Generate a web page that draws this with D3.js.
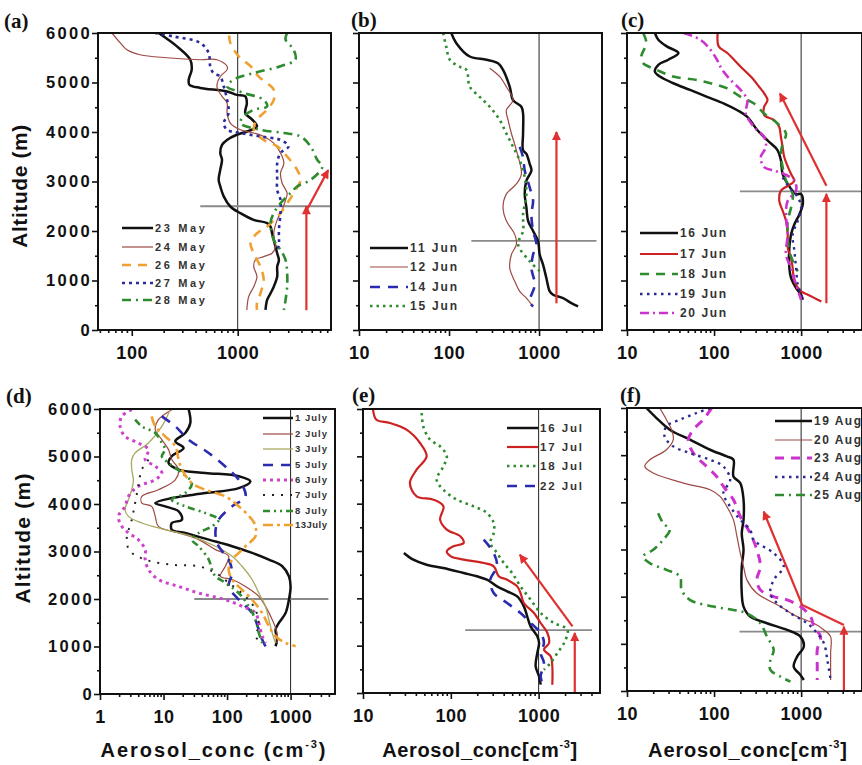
<!DOCTYPE html>
<html><head><meta charset="utf-8">
<script src="https://cdn.jsdelivr.net/npm/d3@7"></script>
<style>body{margin:0;background:#fff} svg{display:block}</style>
</head><body><svg id="chart" width="862" height="765"></svg>
<script>
// ---------------- DATA: [concentration (cm^-3), altitude (m)] ----------------
// Panel (a) May
const may23 = [[179,6000],[267,5730],[357,5460],[368,5260],[345,5060],[350,4955],[443,4890],[792,4820],[980,4750],[1180,4720],[1220,4585],[1180,4380],[1370,4250],[1520,4110],[1220,4010],[980,3945],[792,3840],[711,3740],[685,3575],[711,3440],[685,3240],[661,3035],[685,2900],[738,2700],[852,2495],[1060,2360],[1416,2225],[1897,2160],[2040,2090],[2110,1955],[2190,1820],[2360,1550],[2450,1415],[2360,1280],[2360,1080],[2190,875],[2040,740],[1897,607],[1830,405]];
const may24 = [[65,6000],[78,5800],[90,5660],[120,5560],[214,5500],[443,5460],[637,5460],[794,5330],[794,5260],[685,5120],[637,4920],[711,4720],[794,4585],[794,4380],[852,4180],[1060,4045],[1416,3980],[1760,3910],[2190,3775],[2535,3575],[2730,3370],[2535,3170],[2630,2965],[2930,2765],[2830,2630],[2630,2427],[2360,2225],[2190,1955],[2270,1685],[2110,1550],[1760,1483],[1470,1415],[1416,1280],[1520,1080],[1416,875],[1270,675],[1220,405]];
const may26 = [[830,5950],[852,5800],[1020,5530],[1320,5330],[1580,5120],[2190,4855],[2190,4650],[1897,4450],[1520,4250],[1416,4045],[1760,3840],[2360,3710],[2930,3505],[3640,3235],[3920,3035],[3380,2765],[2930,2560],[2535,2360],[1897,2090],[1520,1955],[1320,1755],[1416,1550],[1640,1280],[1760,1010],[1640,740],[1520,540],[1520,405]];
const may27 = [[166,6000],[248,5930],[443,5800],[532,5595],[550,5330],[590,5190],[685,5120],[738,4920],[794,4650],[820,4380],[738,4180],[794,4045],[1060,3980],[1640,3910],[2535,3840],[3030,3710],[2535,3575],[2360,3370],[2360,3100],[2360,2830],[2535,2630],[2535,2360],[2450,2020],[2450,1755],[2360,1550]];
const may28 = [[2930,6000],[2830,5870],[3380,5660],[3500,5460],[2535,5330],[1416,5190],[916,5060],[794,4920],[1140,4790],[1760,4650],[1897,4515],[1416,4450],[1140,4315],[1060,4180],[1640,4045],[2730,3980],[3920,3910],[4880,3710],[5630,3440],[6300,3300],[4900,3035],[3640,2900],[3150,2765],[2535,2560],[2190,2360],[2040,2160],[2190,1820],[2535,1620],[2830,1415],[2930,1146],[2930,875],[2830,607],[2730,405]];
// Panel (b) June 11-15
const jun11 = [[106,6000],[120,5800],[170,5525],[260,5460],[350,5390],[398,5255],[472,4915],[514,4645],[636,4510],[664,4375],[664,3970],[664,3630],[723,3560],[787,3355],[822,3220],[723,3017],[693,2745],[723,2475],[755,2205],[858,2000],[975,1797],[1016,1525],[1107,1322],[1205,1050],[1314,780],[1432,712],[1848,644],[2287,542],[2710,475]];
const jun12 = [[283,5290],[366,5120],[433,4915],[514,4645],[433,4440],[453,4240],[493,3970],[560,3630],[636,3150],[560,2950],[433,2745],[398,2475],[433,2205],[537,1932],[560,1730],[493,1525],[472,1254],[537,983],[610,780],[723,644],[858,475]];
const jun14 = [[610,3700],[664,3490],[693,3220],[787,2880],[858,2610],[822,2340],[858,2000],[935,1730],[858,1525],[822,1254],[895,915],[787,576],[858,475]];
const jun15 = [[86,6000],[93,5730],[102,5460],[131,5320],[156,5255],[170,4915],[219,4710],[283,4510],[366,4240],[433,3970],[514,3700],[610,3425],[693,3085],[723,2745],[664,2340],[664,2000],[585,1730],[787,1390],[1016,1190]];
// Panel (c) June 16-20
const jun16 = [[20.9,6000],[22.9,5865],[28.6,5730],[39,5595],[29.8,5460],[22.9,5355],[20.9,5220],[23.9,5120],[34,4985],[53,4850],[83,4710],[130,4575],[185,4440],[241,4305],[315,4035],[411,3830],[537,3630],[586,3425],[613,3150],[701,2950],[875,2745],[1000,2745],[1045,2540],[957,2340],[837,2135],[766,1932],[732,1660],[732,1254],[766,1050],[875,848],[1000,712],[1045,610]];
const jun17 = [[110,6000],[113,5730],[142,5595],[202,5320],[264,5120],[329,4915],[376,4780],[411,4645],[376,4510],[376,4340],[491,4240],[561,4100],[586,3900],[613,3695],[641,3490],[766,3150],[837,3017],[766,2950],[586,2815],[561,2610],[613,2410],[670,2205],[701,1932],[701,1660],[766,1457],[800,1254],[837,983],[1000,780],[1195,712],[1426,644],[1705,576]];
const jun18 = [[15.3,6000],[16.7,5800],[14.6,5525],[15.3,5390],[21.9,5255],[34,5120],[63.5,5050],[91,4985],[142,4880],[202,4710],[288,4575],[376,4375],[537,4170],[670,3970],[613,3765],[586,3560],[613,3290],[670,3017],[800,2745],[766,2475],[701,2205],[701,1932],[732,1593],[837,1322],[915,1186]];
const jun19 = [[613,3085],[732,2880],[915,2680],[1000,2475],[915,2205],[800,1932],[837,1593],[875,1254],[915,915],[1000,712],[1045,610]];
const jun20 = [[44.6,6000],[69.5,5865],[91,5660],[108,5460],[124,5255],[155,5050],[202,4850],[241,4645],[231,4375],[288,4100],[376,3900],[393,3695],[344,3490],[376,3290],[491,3220],[641,3150],[837,3017],[875,2815],[701,2610],[670,2340],[701,1932],[670,1525],[766,1254],[875,915],[1000,610]];
// Panel (d) July 1-13
const jul1 = [[24.8,6000],[26.4,5705],[22,5495],[15.3,5320],[20.7,5180],[13.5,5005],[12,4865],[17.3,4725],[45.5,4655],[153,4585],[233,4475],[153,4335],[45.5,4230],[13.5,4125],[7.4,4020],[10.6,3950],[17.3,3845],[19.5,3670],[13.5,3600],[13.5,3460],[22,3390],[51.4,3250],[120,3110],[248,2970],[455,2830],[739,2690],[941,2480],[1000,2265],[941,1985],[834,1705],[654,1495],[580,1355],[612,1145],[580,1005]];
const jul2 = [[13.5,5985],[8.3,5775],[7.4,5565],[9.4,5355],[12,5145],[13.5,4935],[17.3,4725],[15.3,4510],[8.3,4300],[4.55,4160],[4.55,4020],[6.5,3950],[7.4,3740],[8.3,3530],[17.3,3390],[35.7,3250],[65.5,3040],[106,2900],[94,2690],[78.5,2480],[120,2410],[195,2265],[316,2055],[403,1845],[514,1565],[612,1285],[612,1075]];
const jul3 = [[12.7,5985],[9.4,5635],[5.8,5285],[3.57,5075],[3.16,4935],[3.16,4725],[3.36,4510],[3.16,4300],[2.8,4090],[2.48,3880],[2.8,3740],[4.55,3600],[10.6,3460],[28,3320],[65.5,3110],[120,2900],[172,2690],[248,2410],[316,2125],[403,1845],[455,1565],[514,1285],[580,1075]];
const jul5 = [[9.4,5845],[15.3,5635],[24.8,5355],[51.4,5075],[106,4725],[153,4510],[195,4160],[120,3950],[73.8,3670],[65.5,3390],[73.8,3110],[106,2830],[120,2550],[106,2265],[153,1985],[248,1705],[316,1355],[357,1145],[403,1005]];
const jul6 = [[3.16,5985],[2.2,5845],[2.07,5635],[2.48,5425],[4.0,5285],[5.8,5145],[5.14,4935],[7.4,4795],[9.4,4655],[7.4,4510],[4.0,4370],[2.8,4160],[2.48,3950],[1.95,3740],[2.2,3530],[2.8,3390],[4.0,3250],[5.14,3040],[5.14,2830],[5.8,2620],[8.3,2410],[17.3,2265],[35.7,2125],[94,1985],[172,1845],[280,1705],[316,1495],[357,1215],[403,1075]];
const jul7 = [[5.8,4935],[4.55,4725],[4.0,4370],[3.57,4020],[3.16,3670],[2.63,3250],[2.97,3005],[5.14,2830],[13.5,2720],[35.7,2690],[65.5,2550],[106,2340],[195,2055],[280,1775],[316,1425],[280,1215],[357,1075]];
const jul8 = [[3.57,5775],[4.55,5635],[7.4,5495],[9.4,5285],[10.6,5145],[9.4,5005],[12,4865],[19.5,4655],[28,4440],[22,4230],[13.5,4090],[22,3950],[45.5,3810],[73.8,3670],[58,3530],[35.7,3390],[28,3250],[35.7,3110],[51.4,2830],[58,2620],[65.5,2480],[94,2340],[153,2125],[219,1845],[280,1565],[316,1285],[357,1075]];
const jul13 = [[6.5,5845],[7.4,5635],[10.6,5425],[15.3,5215],[17.3,4935],[19.5,4725],[28,4440],[45.5,4300],[94,4160],[153,3950],[248,3670],[280,3530],[280,3320],[195,3110],[153,2970],[120,2830],[106,2620],[120,2410],[172,2195],[248,1985],[357,1705],[455,1425],[580,1215],[834,1075],[1200,1005]];
// Panel (e) July 16-22
const jul16 = [[29.2,2958],[37.4,2817],[53,2711],[82,2641],[140,2535],[198,2465],[258,2394],[336,2253],[438,2148],[570,2042],[679,1831],[741,1620],[810,1408],[966,1197],[1012,1056],[966,845],[925,563],[1012,352],[1055,176]];
const jul17 = [[13,5986],[14.2,5774],[20.2,5704],[31.3,5563],[44.6,5282],[53,5000],[40.8,4718],[34.2,4437],[40.8,4155],[63.4,4085],[82.4,3944],[75.5,3662],[90,3451],[128,3310],[140,3169],[107,3099],[90,2993],[100,2887],[140,2817],[237,2746],[308,2676],[352,2465],[438,2394],[570,2253],[622,2113],[679,1901],[885,1690],[1055,1479],[1260,1268],[1314,1056],[1150,915],[1371,775],[1432,563],[1432,176]];
const jul18 = [[46.6,5915],[48.6,5634],[58,5352],[75.5,5211],[90,5000],[82.4,4789],[69,4507],[82,4296],[117,4085],[182,3944],[258,3803],[308,3592],[308,3380],[282,3169],[336,2958],[401,2746],[499,2535],[622,2253],[810,1972],[1055,1690],[1500,1479],[2130,1338],[1950,1056],[1635,845],[1371,634],[1150,493]];
const jul22 = [[237,3239],[308,2958],[336,2676],[282,2394],[308,2113],[438,1901],[622,1690],[810,1479],[1055,1268],[1150,1056],[1055,845],[1150,634],[1055,352],[1100,211]];
// Panel (f) August
const aug19 = [[16.7,6000],[21.8,5787],[31,5540],[52.8,5328],[90,5115],[140,4974],[167,4903],[167,4549],[200,4408],[218,4054],[218,3629],[208,3346],[218,2993],[208,2639],[208,2073],[218,1790],[260,1578],[405,1436],[689,1295],[982,1153],[1072,941],[899,729],[822,516],[982,340],[1072,233]];
const aug20 = [[23.8,6000],[28.4,5752],[32.5,5540],[34,5328],[28.4,5115],[18.3,4903],[16,4761],[20,4620],[44.3,4408],[90,4266],[117,4125],[140,3912],[167,3629],[183,3276],[200,2922],[218,2639],[238,2356],[310,2073],[578,1790],[899,1578],[1400,1436],[1828,1295],[2180,1153],[2180,800],[2180,516],[2180,233]];
const aug23 = [[94,6000],[75,5752],[57.8,5540],[50.6,5328],[57.8,5044],[82,4761],[107,4549],[128,4337],[167,4054],[200,3700],[260,3346],[310,2993],[340,2639],[310,2356],[340,2144],[484,2002],[689,1931],[982,1790],[1283,1578],[1400,1365],[1670,1153],[1530,870],[1530,587],[1530,233]];
const aug24 = [[90,6000],[63,5894],[40.5,5752],[28.4,5610],[27,5398],[34,5186],[52.8,5044],[90,4903],[128,4761],[153,4478],[128,4195],[153,3912],[200,3629],[260,3417],[284,3205],[484,2922],[631,2639],[484,2356],[443,2073],[528,1861],[754,1648],[1172,1436],[1530,1224],[1828,1011],[2000,658],[2180,233]];
const aug25 = [[22.8,3771],[26,3559],[31,3417],[26,3205],[20,2993],[15.3,2851],[18.3,2710],[28.4,2568],[40.5,2427],[42.4,2144],[52.8,1931],[98,1790],[167,1719],[238,1648],[340,1436],[405,1153],[484,870],[443,658],[443,446],[578,304],[754,198]];

// Legend names
const namesA = ["23 May","24 May","26 May","27 May","28 May"];
const namesB = ["11 Jun","12 Jun","14 Jun","15 Jun"];
const namesC = ["16 Jun","17 Jun","18 Jun","19 Jun","20 Jun"];
const namesD = ["1 July","2 July","3 July","5 July","6 July","7 July","8 July","13July"];
const namesE = ["16 Jul","17 Jul","18 Jul","22 Jul"];
const namesF = ["19 Aug","20 Aug","23 Aug","24 Aug","25 Aug"];

// Boundary-layer heights (m) and reference arrows [conc, alt]
const blhA = 2500, blhB = 1800, blhC = 2800, blhD = 2000, blhE = 1330, blhF = 1260;
const blhSpanA = [443, 8000], blhSpanB = [177, 4340], blhSpanC = [198, 5000], blhSpanD = [30.5, 3935], blhSpanE = [146, 4045], blhSpanF = [196, 5000];
const arrowsA = [[[4450,400],[4450,2500]], [[4500,2430],[7150,3230]]];
const arrowsB = [[[1560,540],[1560,4000]]];
const arrowsC = [[[1950,540],[1950,2750]], [[1950,2915],[571,4780]]];
const arrowsD = [];
const arrowsE = [[[2580,0],[2580,1270]], [[2430,1408],[611,2922]]];
const arrowsF = [[[3100,0],[3100,1365]], [[3100,1400],[1028,1825],[371,3806]]];

const altTicks = [0,1000,2000,3000,4000,5000,6000];
const altMinor = [500,1500,2500,3500,4500,5500];

// ---------------- STYLES & LAYOUT ----------------
const ST = {
  black:   {c:"#111", w:2.5, d:null},
  brown:   {c:"#9c4a44", w:1.2, d:null},
  orangeDash: {c:"#f0a030", w:2.6, d:"9,7"},
  blueDot: {c:"#2b2b9b", w:2.6, d:"3,4"},
  greenDashDot: {c:"#2e8b2e", w:2.6, d:"9,5,2,5"},
  blueDash: {c:"#2b2bb0", w:2.6, d:"10,8"},
  greenDot: {c:"#2e8b2e", w:2.6, d:"2.5,4"},
  red:     {c:"#cc2222", w:2.2, d:null},
  greenDash: {c:"#2e8b2e", w:2.6, d:"9,7"},
  navyDot: {c:"#2a2a8e", w:2.4, d:"2.5,4.5"},
  magDashDot: {c:"#cc33cc", w:2.6, d:"9,4,2,4"},
  olive:   {c:"#a8a860", w:1.3, d:null},
  magDot:  {c:"#cc44cc", w:3, d:"3,4"},
  sparseDot: {c:"#222", w:2, d:"2,7"},
  greenDDD: {c:"#2e8b2e", w:2.6, d:"7,4,2,4,2,4"},
  orangeDashDot: {c:"#f0a030", w:2.6, d:"10,4,3,4"},
  magDash: {c:"#cc33cc", w:3, d:"9,7"}
};

const panels = [
  {lab:"(a)", x0:98, x1:331, y0:33, y1:330, dom:[48,7600], xt:[100,1000], yLab:true, ytc:[27,186,123],
   series:[may23,may24,may26,may27,may28], names:namesA, st:["black","brown","orangeDash","blueDot","greenDashDot"],
   leg:{x0:122,x1:153,tx:155,rows:[228,247,265,283,300],tw:50,fs:11},
   blh:blhA, span:blhSpanA, arrows:arrowsA, labPos:[4,28]},
  {lab:"(b)", x0:359, x1:602, y0:33, y1:330, dom:[10,5000], xt:[10,100,1000], yLab:false,
   series:[jun11,jun12,jun14,jun15], names:namesB, st:["black","brown","blueDash","greenDot"],
   leg:{x0:370,x1:408,tx:410,rows:[248,267,287,306],tw:47,fs:12},
   blh:blhB, span:blhSpanB, arrows:arrowsB, labPos:[351,27]},
  {lab:"(c)", x0:627, x1:862, y0:33, y1:330, dom:[10,5000], xt:[10,100,1000], yLab:false,
   series:[jun16,jun17,jun18,jun19,jun20], names:namesC, st:["black","red","greenDash","navyDot","magDashDot"],
   leg:{x0:640,x1:678,tx:680,rows:[233,254,274,294,313],tw:46,fs:12},
   blh:blhC, span:blhSpanC, arrows:arrowsC, labPos:[621,27]},
  {lab:"(d)", x0:100, x1:335, y0:409, y1:694, dom:[1,5000], xt:[1,10,100,1000], yLab:true, ytc:[30,538,130],
   series:[jul1,jul2,jul3,jul5,jul6,jul7,jul8,jul13], names:namesD,
   st:["black","brown","olive","blueDash","magDot","sparseDot","greenDDD","orangeDashDot"],
   leg:{x0:263,x1:293,tx:295,rows:[418,434,449,465,480,495,511,525],tw:32,fs:9.5},
   blh:blhD, span:blhSpanD, arrows:arrowsD, labPos:[6,403], xTitle:["Aerosol_conc (cm",")"], xtw:225, xtc:214},
  {lab:"(e)", x0:363, x1:600, y0:409, y1:693, dom:[10,5000], xt:[10,100,1000], yLab:false,
   series:[jul16,jul17,jul18,jul22], names:namesE, st:["black","red","greenDot","blueDash"],
   leg:{x0:507,x1:538,tx:540,rows:[428,447,466,486],tw:42,fs:11.5},
   blh:blhE, span:blhSpanE, arrows:arrowsE, labPos:[352,402], xTitle:["Aerosol_conc[cm","]"], xtw:195, xtc:480},
  {lab:"(f)", x0:627, x1:862, y0:408, y1:691, dom:[10,5000], xt:[10,100,1000], yLab:false,
   series:[aug19,aug20,aug23,aug24,aug25], names:namesF, st:["black","brown","magDash","navyDot","greenDashDot"],
   leg:{x0:775,x1:812,tx:814,rows:[421,440,458,477,495],tw:47,fs:12},
   blh:blhF, span:blhSpanF, arrows:arrowsF, labPos:[620,402], xTitle:["Aerosol_conc[cm","]"], xtw:199, xtc:748}
];

const FONT = "'Liberation Sans', Arial, Helvetica, sans-serif";
const svg = d3.select("#chart");
svg.append("rect").attr("width",862).attr("height",765).attr("fill","#fff");

const defs = svg.append("defs");
defs.append("marker").attr("id","ah").attr("viewBox","0 0 10 10").attr("refX",9).attr("refY",5)
  .attr("markerWidth",11).attr("markerHeight",9).attr("markerUnits","userSpaceOnUse").attr("orient","auto")
  .append("path").attr("d","M0,0 L10,5 L0,10 z").attr("fill","#e03030");

function fitWidth(sel, target){
  const n = sel.node(); const L = n.getComputedTextLength(); const k = n.textContent.length;
  sel.attr("letter-spacing", ((target - L)/Math.max(1,k-1)).toFixed(2));
}

panels.forEach((p, i) => {
  const sx = d3.scaleLog().domain(p.dom).range([p.x0, p.x1]);
  const sy = d3.scaleLinear().domain([0,6000]).range([p.y1, p.y0]);
  const g = svg.append("g");
  const cid = "clip"+i;
  defs.append("clipPath").attr("id",cid).append("rect")
    .attr("x",p.x0).attr("y",p.y0).attr("width",p.x1-p.x0).attr("height",p.y1-p.y0);

  // reference lines
  g.append("line").attr("x1",sx(1000)).attr("x2",sx(1000)).attr("y1",p.y0).attr("y2",p.y1)
    .attr("stroke","#222").attr("stroke-width",1);
  g.append("line").attr("x1",sx(p.span[0])).attr("x2",Math.min(sx(p.span[1]),p.x1)).attr("y1",sy(p.blh)).attr("y2",sy(p.blh))
    .attr("stroke","#8a8a8a").attr("stroke-width",1.8);

  // curves
  const line = d3.line().x(d=>sx(d[0])).y(d=>sy(d[1])).curve(d3.curveCatmullRom.alpha(0.5));
  const cg = g.append("g").attr("clip-path",`url(#${cid})`);
  p.series.forEach((s, j) => {
    const st = ST[p.st[j]];
    cg.append("path").attr("d", line(s)).attr("fill","none").attr("stroke",st.c)
      .attr("stroke-width",st.w).attr("stroke-dasharray",st.d).attr("stroke-linejoin","round");
  });

  // legend
  p.names.forEach((nm, j) => {
    const st = ST[p.st[j]]; const y = p.leg.rows[j];
    g.append("line").attr("x1",p.leg.x0).attr("x2",p.leg.x1).attr("y1",y).attr("y2",y)
      .attr("stroke",st.c).attr("stroke-width",st.w).attr("stroke-dasharray",st.d);
    const t = g.append("text").attr("x",p.leg.tx).attr("y",y+p.leg.fs*0.36).text(nm)
      .attr("font-family",FONT).attr("font-weight","bold").attr("font-size",p.leg.fs).attr("fill","#333");
    fitWidth(t, p.leg.tw);
  });

  // arrows
  const aline = d3.line().x(d=>sx(d[0])).y(d=>sy(d[1]));
  p.arrows.forEach(a => {
    g.append("path").attr("d", aline(a)).attr("fill","none").attr("stroke","#e03030")
      .attr("stroke-width",2.2).attr("marker-end","url(#ah)");
  });

  // axes
  const yAx = g.append("g").attr("transform",`translate(${p.x0},0)`)
    .call(d3.axisLeft(sy).tickValues(altTicks).tickSize(6).tickPadding(0).tickFormat(p.yLab ? d3.format("d") : ""));
  g.append("g").attr("transform",`translate(${p.x0},0)`)
    .call(d3.axisLeft(sy).tickValues(altMinor).tickSize(3).tickFormat(""));
  const minor = [];
  for (let e = -1; e <= 4; e++) for (let m = 2; m <= 9; m++) {
    const v = m*Math.pow(10,e); if (v > p.dom[0] && v < p.dom[1]) minor.push(v);
  }
  const xAx = g.append("g").attr("transform",`translate(0,${p.y1})`)
    .call(d3.axisBottom(sx).tickValues(p.xt).tickSize(6).tickPadding(10).tickFormat(d3.format("d")));
  g.append("g").attr("transform",`translate(0,${p.y1})`)
    .call(d3.axisBottom(sx).tickValues(minor).tickSize(3).tickFormat(""));
  g.selectAll(".domain").remove();
  g.selectAll(".tick line").attr("stroke","#111").attr("stroke-width",1.6);
  yAx.selectAll("text").attr("font-family",FONT).attr("font-weight","bold").attr("font-size",16.5)
    .attr("fill","#111").attr("letter-spacing",2.3);
  xAx.selectAll("text").attr("font-family",FONT).attr("font-weight","bold").attr("font-size",18)
    .attr("fill","#111").attr("letter-spacing",0.6);

  // frame
  g.append("rect").attr("x",p.x0).attr("y",p.y0).attr("width",p.x1-p.x0).attr("height",p.y1-p.y0)
    .attr("fill","none").attr("stroke","#111").attr("stroke-width",2);

  // panel label
  g.append("text").attr("x",p.labPos[0]).attr("y",p.labPos[1]).text(p.lab)
    .attr("font-family","'Liberation Serif','Times New Roman',serif").attr("font-weight","bold")
    .attr("font-size",21).attr("fill","#111");

  // y title
  if (p.yLab) {
    const t = g.append("text").attr("transform",`translate(${p.ytc[0]},${p.ytc[1]}) rotate(-90)`)
      .attr("text-anchor","middle").text("Altitude (m)")
      .attr("font-family",FONT).attr("font-weight","bold").attr("font-size",21).attr("fill","#111");
    fitWidth(t, p.ytc[2]);
  }
  // x title
  if (p.xTitle) {
    const t = g.append("text").attr("x",p.xtc).attr("y",757).attr("text-anchor","middle")
      .attr("font-family",FONT).attr("font-weight","bold").attr("font-size",20).attr("fill","#111");
    t.append("tspan").text(p.xTitle[0]);
    t.append("tspan").attr("dy",-9).attr("font-size",11).text("-3");
    t.append("tspan").attr("dy",9).text(p.xTitle[1]);
    const L = t.node().getComputedTextLength();
    const k = t.node().textContent.length;
    t.attr("letter-spacing", ((p.xtw - L)/(k-1)).toFixed(2));
  }
});
</script>
</body></html>
